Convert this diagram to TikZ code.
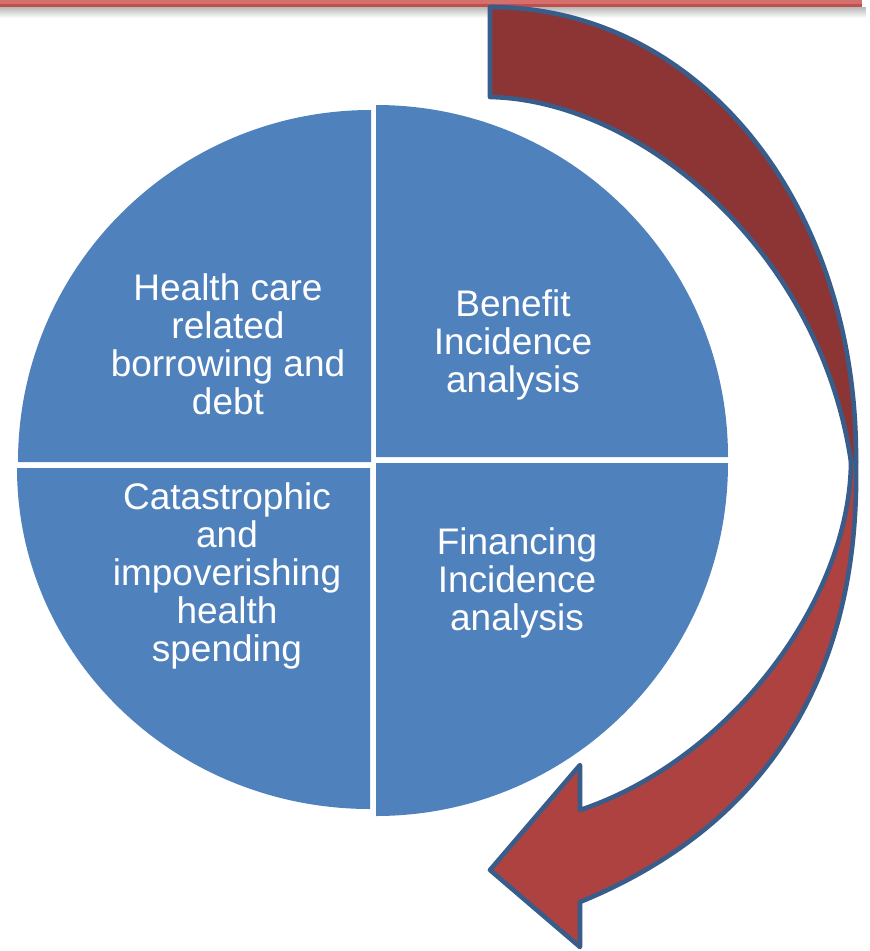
\documentclass[tikz,border=0pt]{standalone}
\usepackage{fontspec}
\setmainfont{Liberation Sans}
\definecolor{quadblue}{HTML}{4F81BD}
\definecolor{arrowdark}{HTML}{8C3534}
\definecolor{arrowlight}{HTML}{AD4240}
\definecolor{arrowline}{HTML}{385D8A}
\definecolor{barred}{HTML}{C0504D}
\definecolor{barlight}{HTML}{D56F6B}
\begin{document}
\begin{tikzpicture}[x=1pt,y=-1pt,
  quad/.style={fill=quadblue},
  quadtext/.style={text=white, align=center, inner sep=0pt,
    font=\fontsize{37}{38}\selectfont},
  arrowpiece/.style={draw=arrowline, line width=4.6pt, line join=round}]
  \useasboundingbox (0,0) rectangle (870,951);

  % header rule with its soft shadow
  \foreach \i in {0,...,10}{
    \pgfmathsetmacro\op{0.28*(1-\i/11)}
    \fill[black, opacity=\op] (0,6.5+\i) rectangle (866,7.5+\i);
  }
  \fill[barlight] (0,0) rectangle (862,4);
  \fill[barred] (0,4) rectangle (862,6.5);

  % four quadrants of the disc
  \fill[quad] (371,462) -- (18,462) arc[start angle=180, end angle=270, x radius=353, y radius=352] -- cycle;
  \fill[quad] (376,457) -- (376,105) arc[start angle=270, end angle=360, x radius=352, y radius=352] -- cycle;
  \fill[quad] (376,463) -- (728,463) arc[start angle=0, end angle=90, x radius=352, y radius=353] -- cycle;
  \fill[quad] (370,468) -- (370,809) arc[start angle=90, end angle=180, x radius=353, y radius=341] -- cycle;

  % quadrant labels
  \node[quadtext] (debt) at (228,344) {Health care\\related\\borrowing and\\debt};
  \node[quadtext] (benefit) at (513,345) {Benefit\\Incidence\\analysis};
  \node[quadtext] (catastrophic) at (227,576) {Catastrophic\\and\\impoverishing\\health\\spending};
  \node[quadtext] (financing) at (517,583) {Financing\\Incidence\\analysis};

  % circular arrow: upper band
  \filldraw[arrowpiece, fill=arrowdark]
    (490,7) .. controls (700,7) and (858,205) .. (856,462)
    -- (851,462) .. controls (820,250) and (640,100) .. (490,97) -- cycle;

  % circular arrow: lower band with head
  \filldraw[arrowpiece, fill=arrowlight]
    (856,462) .. controls (860,660) and (780,820) .. (580,902)
    -- (580,947) -- (490,870) -- (580,765) -- (580,810)
    .. controls (730,760) and (850,600) .. (851,462) -- cycle;
\end{tikzpicture}
\end{document}
